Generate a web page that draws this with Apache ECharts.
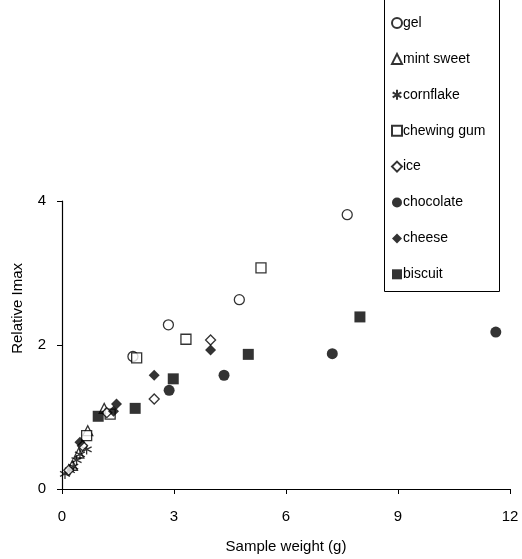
<!DOCTYPE html>
<html>
<head>
<meta charset="utf-8">
<script src="https://cdn.jsdelivr.net/npm/echarts@6/dist/echarts.min.js"></script>
<style>
  html, body { margin: 0; padding: 0; background: #fff; }
  #chart { width: 522px; height: 559px; }
</style>
</head>
<body>
<div id="chart"></div>
<script>
// [sample weight (g), relative Imax]
const gel = [[1.9, 1.84], [2.85, 2.28], [4.75, 2.63], [7.64, 3.81]];
const mintSweet = [[0.28, 0.33], [0.45, 0.5], [0.69, 0.81], [1.13, 1.12]];
const cornflake = [[0.08, 0.21], [0.21, 0.26], [0.3, 0.31], [0.39, 0.4], [0.48, 0.48], [0.66, 0.55]];
const chewingGum = [[0.66, 0.74], [1.29, 1.04], [2.0, 1.82], [3.32, 2.08], [5.33, 3.07]];
const ice = [[0.18, 0.26], [0.55, 0.6], [1.2, 1.06], [2.47, 1.25], [3.98, 2.07]];
const chocolate = [[2.87, 1.37], [4.34, 1.58], [7.24, 1.88], [11.62, 2.18]];
const cheese = [[0.48, 0.65], [1.38, 1.08], [1.46, 1.18], [2.47, 1.58], [3.98, 1.93]];
const biscuit = [[0.97, 1.01], [1.96, 1.12], [2.98, 1.53], [4.99, 1.87], [7.98, 2.39]];

const xTicks = { min: 0, max: 12, interval: 3 };
const yTicks = { min: 0, max: 4, interval: 2 };
const legendNames = ["gel", "mint sweet", "cornflake", "chewing gum", "ice", "chocolate", "cheese", "biscuit"];

const FONT = "Liberation Sans";
const star = "path://M0,-5L0,5M-4.33,-2.5L4.33,2.5M-4.33,2.5L4.33,-2.5";

const open = { color: "#fff", borderColor: "#000", borderWidth: 1.3 };
const solid = { color: "#000", borderColor: "#000", borderWidth: 0 };

function scatter(name, data, symbol, size, style) {
  return { name, type: "scatter", data, symbol, symbolSize: size, itemStyle: style, z: 3 };
}

const chart = echarts.init(document.getElementById("chart"));
chart.setOption({
  animation: false,
  textStyle: { fontFamily: FONT },
  grid: { left: 62, right: 12, top: 201, bottom: 69 },
  legend: {
    orient: "vertical",
    left: 391,
    top: 16,
    padding: 0,
    itemGap: 21.9,
    itemWidth: 10,
    itemHeight: 10,
    textStyle: { fontFamily: FONT, fontSize: 14, color: "#000", padding: [0, 0, 0, -4] },
    data: legendNames
  },
  xAxis: {
    type: "value",
    ...xTicks,
    name: "Sample weight (g)",
    nameLocation: "middle",
    nameGap: 50,
    nameTextStyle: { fontFamily: FONT, fontSize: 15, color: "#000" },
    axisLine: { onZero: false, lineStyle: { color: "#000", width: 1.2 } },
    axisTick: { show: true, length: 5, lineStyle: { color: "#000" } },
    axisLabel: { fontFamily: FONT, fontSize: 15, color: "#000", margin: 20 },
    splitLine: { show: false }
  },
  yAxis: {
    type: "value",
    ...yTicks,
    axisLine: { show: true, onZero: false, lineStyle: { color: "#000", width: 1.2 } },
    axisTick: { show: true, length: 5, lineStyle: { color: "#000" } },
    axisLabel: { fontFamily: FONT, fontSize: 15, color: "#000", margin: 16 },
    splitLine: { show: false }
  },
  graphic: [
    {
      type: "rect",
      shape: { x: 384.5, y: -1, width: 115, height: 292.5 },
      style: { fill: "none", stroke: "#000", lineWidth: 1 }
    },
    {
      type: "text",
      left: 10,
      top: 263,
      rotation: Math.PI / 2,
      style: { text: "Relative Imax", font: "15px " + FONT, fill: "#000" }
    }
  ],
  series: [
    scatter("gel", gel, "circle", 10, open),
    scatter("mint sweet", mintSweet, "triangle", 10, open),
    scatter("cornflake", cornflake, star, 10, { color: "#000", borderColor: "#000", borderWidth: 1.3 }),
    scatter("chewing gum", chewingGum, "rect", 10, open),
    scatter("ice", ice, "diamond", 10, open),
    scatter("chocolate", chocolate, "circle", 11, solid),
    scatter("cheese", cheese, "diamond", 11, solid),
    scatter("biscuit", biscuit, "rect", 11, solid)
  ]
});
</script>
</body>
</html>
